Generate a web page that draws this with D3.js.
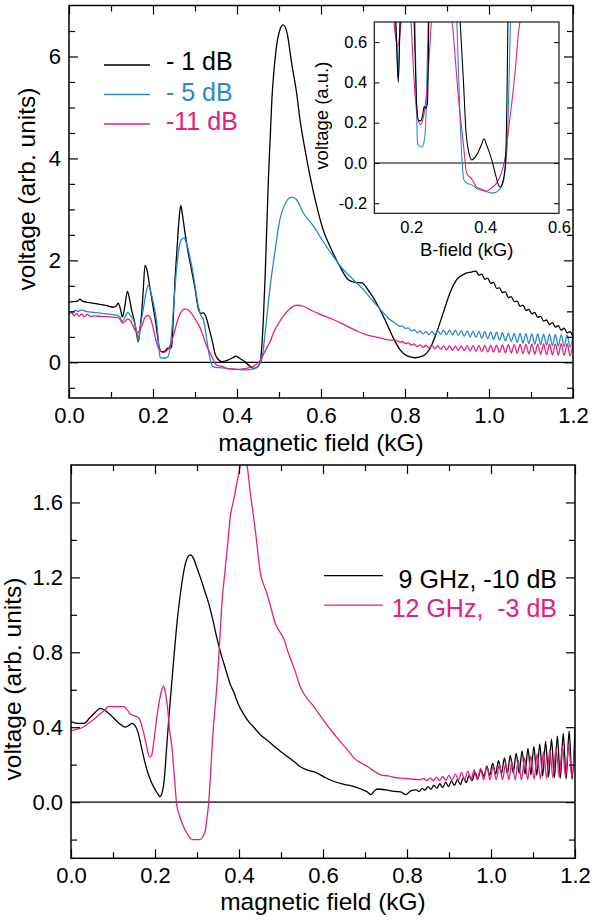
<!DOCTYPE html>
<html>
<head>
<meta charset="utf-8">
<script src="https://cdn.jsdelivr.net/npm/d3@7"></script>
<style>
  html, body { margin: 0; padding: 0; background: #fff; }
  svg { display: block; font-family: "Liberation Sans", Arial, Helvetica, sans-serif; }
</style>
</head>
<body>
<svg id="chart" width="598" height="920"></svg>
<script>
// ---------------- data: upper panel (field in kG, voltage in arb. units) ----------------
const top_m1dB = [
  [0.000,1.18],[0.010,1.19],[0.020,1.20],[0.026,1.24],[0.032,1.20],[0.050,1.17],[0.070,1.14],[0.090,1.11],
  [0.105,1.08],[0.112,1.10],[0.117,1.16],[0.122,1.06],[0.127,0.89],[0.133,1.10],[0.139,1.39],[0.144,1.25],
  [0.149,1.03],[0.153,0.90],[0.157,0.75],[0.161,0.55],[0.165,0.40],[0.169,0.65],[0.173,0.97],[0.177,1.45],
  [0.181,1.90],[0.186,1.80],[0.191,1.55],[0.200,1.10],[0.207,0.75],[0.211,0.50],[0.215,0.28],[0.220,0.21],
  [0.226,0.21],[0.231,0.24],[0.235,0.28],[0.240,0.27],[0.244,0.30],[0.248,0.80],[0.252,1.55],[0.257,2.20],
  [0.262,2.80],[0.266,3.08],[0.270,2.90],[0.276,2.55],[0.284,2.14],[0.292,1.80],[0.300,1.45],[0.308,1.05],
  [0.314,0.96],[0.320,0.97],[0.326,0.90],[0.334,0.65],[0.342,0.38],[0.348,0.16],[0.355,0.06],[0.364,0.015],
  [0.377,0.04],[0.390,0.09],[0.397,0.12],[0.404,0.09],[0.418,0.015],[0.427,-0.05],[0.440,-0.12],[0.449,-0.085],
  [0.455,0.00],[0.459,0.30],[0.463,0.90],[0.467,1.69],[0.475,3.65],[0.483,5.15],[0.493,6.13],[0.502,6.52],
  [0.510,6.62],[0.520,6.43],[0.530,5.87],[0.542,5.28],[0.550,4.76],[0.562,4.17],[0.574,3.65],[0.590,3.06],
  [0.605,2.60],[0.625,2.21],[0.645,1.88],[0.665,1.62],[0.681,1.57],[0.697,1.56],[0.717,1.36],[0.740,1.04],
  [0.756,0.77],[0.772,0.48],[0.788,0.25],[0.804,0.13],[0.824,0.09],[0.844,0.13],[0.860,0.28],[0.875,0.58],
  [0.891,0.97],[0.907,1.36],[0.923,1.62],[0.943,1.74],[0.958,1.77]
];
const top_m5dB = [
  [0.000,1.00],[0.008,0.98],[0.015,1.02],[0.022,1.00],[0.030,1.03],[0.040,1.00],[0.060,0.98],[0.080,0.96],
  [0.100,0.94],[0.115,0.92],[0.122,0.88],[0.127,0.80],[0.133,0.88],[0.140,0.98],[0.146,0.92],[0.152,0.85],
  [0.158,0.72],[0.162,0.55],[0.165,0.42],[0.168,0.60],[0.172,0.80],[0.178,1.10],[0.183,1.35],[0.189,1.52],
  [0.194,1.40],[0.200,1.20],[0.206,0.95],[0.210,0.70],[0.214,0.30],[0.217,0.10],[0.221,0.085],[0.229,0.08],
  [0.236,0.12],[0.241,0.30],[0.245,0.64],[0.250,1.20],[0.256,1.82],[0.262,2.25],[0.268,2.41],[0.274,2.44],
  [0.279,2.35],[0.284,2.21],[0.290,1.98],[0.296,1.72],[0.302,1.40],[0.308,1.10],[0.314,0.92],[0.320,0.84],
  [0.328,0.45],[0.333,0.18],[0.338,0.00],[0.342,-0.08],[0.350,-0.10],[0.365,-0.11],[0.380,-0.13],[0.400,-0.14],
  [0.420,-0.15],[0.440,-0.13],[0.450,-0.09],[0.456,0.00],[0.460,0.10],[0.467,0.58],[0.479,1.49],[0.491,2.21],
  [0.502,2.80],[0.510,3.02],[0.518,3.16],[0.530,3.24],[0.542,3.19],[0.558,2.93],[0.582,2.67],[0.605,2.37],
  [0.629,2.08],[0.653,1.82],[0.677,1.62],[0.700,1.43],[0.724,1.20],[0.740,1.05],[0.764,0.84]
];
const top_m11dB = [
  [0.000,0.94],[0.006,0.98],[0.012,0.91],[0.018,0.96],[0.024,0.90],[0.030,0.95],[0.036,0.89],[0.044,0.94],
  [0.052,0.90],[0.060,0.91],[0.080,0.90],[0.100,0.89],[0.115,0.88],[0.122,0.84],[0.127,0.77],[0.133,0.80],
  [0.140,0.85],[0.146,0.82],[0.152,0.72],[0.158,0.62],[0.163,0.58],[0.168,0.62],[0.175,0.75],[0.181,0.88],
  [0.187,0.92],[0.193,0.88],[0.199,0.72],[0.205,0.50],[0.212,0.30],[0.218,0.22],[0.225,0.19],[0.232,0.22],
  [0.240,0.32],[0.248,0.51],[0.255,0.72],[0.262,0.90],[0.270,1.02],[0.277,1.05],[0.285,1.02],[0.294,0.93],
  [0.304,0.80],[0.312,0.68],[0.320,0.50],[0.328,0.32],[0.336,0.18],[0.343,0.06],[0.350,-0.05],[0.364,-0.08],
  [0.377,-0.12],[0.390,-0.13],[0.404,-0.14],[0.413,-0.13],[0.431,-0.10],[0.444,-0.05],[0.453,0.015],[0.467,0.22],
  [0.480,0.43],[0.489,0.62],[0.500,0.78],[0.510,0.90],[0.526,1.05],[0.542,1.12],[0.558,1.10],[0.575,1.03],
  [0.590,0.97],[0.610,0.90],[0.629,0.84],[0.650,0.76],[0.669,0.68],[0.690,0.60],[0.709,0.54],[0.740,0.48],
  [0.760,0.44]
];

// high-field sample positions (kG) where the traces ripple
const tailField = [
  0.780,0.787,0.794,0.801,0.808,0.815,0.822,0.829,0.836,0.843,0.850,0.857,0.864,0.871,0.878,0.885,
  0.892,0.899,0.906,0.913,0.920,0.927,0.934,0.941,0.948,0.955,0.962,0.969,0.976,0.983,0.990,0.997,
  1.004,1.011,1.018,1.025,1.032,1.039,1.046,1.053,1.060,1.067,1.074,1.081,1.088,1.095,1.102,1.109,
  1.116,1.123,1.130,1.137,1.144,1.151,1.158,1.165,1.172,1.179,1.186,1.193,1.200
];
// -1 dB ripple, from 0.969 kG on
const top_m1dB_tail = [
  1.79,1.71,1.73,1.63,1.65,1.55,1.57,1.45,1.46,1.37,1.38,1.27,1.29,1.19,1.20,1.10,1.12,
  1.02,1.04,0.95,0.98,0.88,0.90,0.81,0.83,0.74,0.78,0.69,0.72,0.63,0.67,0.58,0.60,0.50
];
const top_m5dB_tail = [
  0.750,0.710,0.710,0.665,0.676,0.617,0.640,0.580,0.614,0.555,0.602,0.540,0.600,0.543,0.615,0.548,
  0.630,0.545,0.635,0.537,0.630,0.525,0.622,0.511,0.615,0.500,0.613,0.488,0.609,0.474,0.604,0.462,
  0.598,0.450,0.591,0.435,0.582,0.420,0.573,0.406,0.569,0.391,0.565,0.377,0.562,0.364,0.559,0.354,
  0.557,0.344,0.554,0.336,0.551,0.327,0.547,0.318,0.543,0.308,0.538,0.297,0.530
];
const top_m11dB_tail = [
  0.430,0.399,0.408,0.365,0.386,0.337,0.360,0.309,0.344,0.291,0.335,0.278,0.329,0.265,0.325,0.254,
  0.322,0.242,0.321,0.236,0.322,0.232,0.324,0.228,0.326,0.223,0.329,0.217,0.333,0.210,0.334,0.205,
  0.336,0.200,0.339,0.194,0.343,0.188,0.345,0.182,0.348,0.177,0.350,0.172,0.353,0.166,0.355,0.161,
  0.358,0.155,0.360,0.149,0.361,0.145,0.363,0.140,0.366,0.135,0.368,0.131,0.370
];

// ---------------- data: lower panel ----------------
const bot_9GHz = [
  [0.000,0.43],[0.015,0.42],[0.030,0.42],[0.045,0.45],[0.058,0.48],[0.069,0.50],[0.081,0.49],[0.092,0.47],
  [0.101,0.45],[0.115,0.42],[0.129,0.40],[0.138,0.41],[0.145,0.42],[0.152,0.41],[0.160,0.37],[0.167,0.30],
  [0.173,0.24],[0.181,0.17],[0.189,0.12],[0.197,0.08],[0.205,0.05],[0.212,0.03],[0.218,0.06],[0.222,0.12],
  [0.228,0.30],[0.234,0.48],[0.240,0.64],[0.246,0.80],[0.252,0.95],[0.258,1.07],[0.264,1.17],[0.270,1.25],
  [0.276,1.30],[0.284,1.32],[0.292,1.30],[0.300,1.25],[0.308,1.20],[0.318,1.13],[0.328,1.06],[0.338,0.97],
  [0.348,0.87],[0.356,0.80],[0.364,0.74],[0.372,0.68],[0.379,0.63],[0.387,0.59],[0.399,0.52],[0.411,0.47],
  [0.423,0.43],[0.435,0.40],[0.451,0.36],[0.467,0.33],[0.483,0.30],[0.499,0.27],[0.511,0.25],[0.523,0.23],
  [0.535,0.21],[0.545,0.19],[0.565,0.17],[0.586,0.155],[0.606,0.13],[0.626,0.11],[0.650,0.095],[0.674,0.083],
  [0.690,0.07],[0.705,0.055],[0.714,0.04],[0.722,0.06],[0.730,0.07],[0.750,0.065],[0.769,0.057],[0.785,0.055],
  [0.797,0.04],[0.809,0.06]
];
// 9 GHz ripple, from 0.822 kG on
const bot_9GHz_tail = [
  0.065,0.057,0.073,0.064,0.083,0.069,0.090,0.074,0.098,0.078,0.105,0.083,0.113,0.089,0.120,0.094,
  0.129,0.104,0.143,0.115,0.158,0.126,0.175,0.137,0.192,0.144,0.207,0.150,0.221,0.152,0.236,0.154,
  0.249,0.155,0.262,0.153,0.274,0.150,0.287,0.145,0.298,0.143,0.310,0.138,0.324,0.135,0.336,0.132,
  0.352,0.128,0.367,0.124,0.380,0.121,0.390
];
const bot_12GHz = [
  [0.000,0.38],[0.015,0.39],[0.029,0.40],[0.041,0.42],[0.053,0.44],[0.069,0.47],[0.080,0.49],[0.089,0.51],
  [0.105,0.51],[0.125,0.51],[0.135,0.49],[0.141,0.47],[0.152,0.46],[0.161,0.45],[0.167,0.42],[0.173,0.37],
  [0.180,0.30],[0.187,0.24],[0.192,0.25],[0.196,0.30],[0.202,0.41],[0.208,0.51],[0.214,0.58],[0.220,0.62],
  [0.225,0.58],[0.230,0.50],[0.235,0.38],[0.240,0.30],[0.246,0.14],[0.252,-0.02],[0.258,-0.07],[0.264,-0.11],
  [0.272,-0.15],[0.280,-0.18],[0.288,-0.20],[0.300,-0.20],[0.308,-0.20],[0.315,-0.18],[0.320,-0.15],[0.324,-0.08],
  [0.328,0.00],[0.332,0.14],[0.336,0.30],[0.342,0.48],[0.348,0.64],[0.354,0.86],[0.360,1.08],[0.366,1.22],
  [0.372,1.35],[0.379,1.52],[0.387,1.61],[0.393,1.68],[0.399,1.75],[0.405,1.81],[0.412,1.83],[0.418,1.81],
  [0.427,1.65],[0.433,1.55],[0.439,1.45],[0.445,1.33],[0.451,1.22],[0.459,1.16],[0.467,1.11],[0.477,1.03],
  [0.487,0.95],[0.497,0.91],[0.507,0.87],[0.517,0.80],[0.527,0.74],[0.535,0.69],[0.545,0.62],[0.560,0.56],
  [0.578,0.51],[0.594,0.46],[0.610,0.41],[0.626,0.365],[0.642,0.32],[0.658,0.28],[0.674,0.235],[0.690,0.21],
  [0.706,0.19],[0.722,0.165],[0.737,0.146],[0.755,0.14],[0.770,0.132],[0.785,0.128],[0.800,0.126],[0.815,0.122],
  [0.830,0.12]
];
const bot_12GHz_field = [
  0.8400,0.8475,0.8550,0.8625,0.8700,0.8775,0.8850,0.8925,0.9000,0.9075,0.9150,0.9225,0.9300,0.9375,
  0.9450,0.9525,0.9600,0.9675,0.9750,0.9825,0.9900,0.9975,1.0050,1.0125,1.0200,1.0275,1.0350,1.0425,
  1.0500,1.0575,1.0650,1.0725,1.0800,1.0875,1.0950,1.1025,1.1100,1.1175,1.1250,1.1325,1.1400,1.1475,
  1.1550,1.1625,1.1700,1.1775,1.1850,1.1925,1.2000
];
const bot_12GHz_tail = [
  0.125,0.115,0.129,0.115,0.133,0.115,0.137,0.116,0.143,0.118,0.149,0.119,0.157,0.119,
  0.165,0.119,0.173,0.119,0.180,0.120,0.187,0.120,0.192,0.120,0.200,0.120,0.208,0.120,
  0.216,0.119,0.223,0.119,0.236,0.121,0.247,0.122,0.257,0.124,0.269,0.126,0.280,0.129,
  0.290,0.131,0.299,0.135,0.307,0.135,0.315
];

// ---------------- ticks and legend text ----------------
const xMajorTicks = [0, 0.2, 0.4, 0.6, 0.8, 1.0, 1.2];
const xMinorTicks = [0.1, 0.3, 0.5, 0.7, 0.9, 1.1];
const topYMajor = [0, 2, 4, 6];
const topYMinor = [-0.5, 0.5, 1, 1.5, 2.5, 3, 3.5, 4.5, 5, 5.5, 6.5];
const botYMajor = [0, 0.4, 0.8, 1.2, 1.6];
const botYMinor = [-0.2, 0.2, 0.6, 1.0, 1.4];
const insetXTicks = [0.2, 0.4, 0.6];
const insetYTicks = [-0.2, 0, 0.2, 0.4, 0.6];
const topLegend = ["- 1 dB", "- 5 dB", "-11 dB"];
const botLegend = ["9 GHz, -10 dB", "12 GHz,  -3 dB"];

const BLACK = "#000000", BLUE = "#2b87cd", MAGENTA = "#e2217f";

// assemble full traces
const pairUp = (xs, ys) => ys.map((v, i) => [xs[i], v]);
const seriesTop = [
  { data: top_m1dB.concat(pairUp(tailField.slice(27), top_m1dB_tail)), color: BLACK },
  { data: top_m5dB.concat(pairUp(tailField, top_m5dB_tail)), color: BLUE },
  { data: top_m11dB.concat(pairUp(tailField, top_m11dB_tail)), color: MAGENTA }
];
const seriesBot = [
  { data: bot_9GHz.concat(pairUp(tailField.slice(6), bot_9GHz_tail)), color: BLACK },
  { data: bot_12GHz.concat(pairUp(bot_12GHz_field, bot_12GHz_tail)), color: MAGENTA }
];

const svg = d3.select("#chart");
const TICK_FONT = 22, TITLE_FONT = 24.5, LEGEND_FONT = 25;

function drawPanel(cfg) {
  const { box, xDomain, yDomain, series, id } = cfg;
  const x = d3.scaleLinear().domain(xDomain).range([box.left, box.right]);
  const y = d3.scaleLinear().domain(yDomain).range([box.bottom, box.top]);
  const g = svg.append("g");

  g.append("clipPath").attr("id", id).append("rect")
    .attr("x", box.left).attr("y", box.top)
    .attr("width", box.right - box.left).attr("height", box.bottom - box.top);

  // zero reference line
  g.append("line")
    .attr("x1", box.left).attr("x2", box.right)
    .attr("y1", y(0)).attr("y2", y(0))
    .attr("stroke", "#000").attr("stroke-width", 1.2);

  const line = d3.line().x(d => x(d[0])).y(d => y(d[1])).curve(d3.curveMonotoneX);
  const traces = g.append("g").attr("clip-path", `url(#${id})`);
  series.forEach(s => {
    traces.append("path").datum(s.data)
      .attr("d", line).attr("fill", "none")
      .attr("stroke", s.color).attr("stroke-width", 1.3)
      .attr("stroke-linejoin", "round");
  });

  const styleAxis = sel => {
    sel.select(".domain").remove();
    sel.selectAll(".tick line").attr("stroke", "#000").attr("stroke-width", 1.2);
    sel.selectAll(".tick text").attr("fill", "#000")
      .style("font-size", TICK_FONT + "px").style("font-family", "Liberation Sans, Arial, sans-serif");
  };
  const fmtX = d => d.toFixed(1);

  g.append("g").attr("transform", `translate(0,${box.bottom})`)
    .call(d3.axisBottom(x).tickValues(xMajorTicks).tickSizeInner(-9).tickSizeOuter(0)
      .tickPadding(9).tickFormat(fmtX)).call(styleAxis);
  g.append("g").attr("transform", `translate(0,${box.bottom})`)
    .call(d3.axisBottom(x).tickValues(xMinorTicks).tickSizeInner(-6).tickSizeOuter(0)
      .tickFormat("")).call(styleAxis);
  g.append("g").attr("transform", `translate(0,${box.top})`)
    .call(d3.axisTop(x).tickValues(xMajorTicks).tickSizeInner(-9).tickSizeOuter(0)
      .tickFormat("")).call(styleAxis);
  g.append("g").attr("transform", `translate(0,${box.top})`)
    .call(d3.axisTop(x).tickValues(xMinorTicks).tickSizeInner(-6).tickSizeOuter(0)
      .tickFormat("")).call(styleAxis);

  g.append("g").attr("transform", `translate(${box.left},0)`)
    .call(d3.axisLeft(y).tickValues(cfg.yMajor).tickSizeInner(-9).tickSizeOuter(0)
      .tickPadding(8).tickFormat(cfg.yFormat)).call(styleAxis);
  g.append("g").attr("transform", `translate(${box.left},0)`)
    .call(d3.axisLeft(y).tickValues(cfg.yMinor).tickSizeInner(-6).tickSizeOuter(0)
      .tickFormat("")).call(styleAxis);
  g.append("g").attr("transform", `translate(${box.right},0)`)
    .call(d3.axisRight(y).tickValues(cfg.yMajor).tickSizeInner(-9).tickSizeOuter(0)
      .tickFormat("")).call(styleAxis);
  g.append("g").attr("transform", `translate(${box.right},0)`)
    .call(d3.axisRight(y).tickValues(cfg.yMinor).tickSizeInner(-6).tickSizeOuter(0)
      .tickFormat("")).call(styleAxis);

  // frame
  g.append("rect")
    .attr("x", box.left).attr("y", box.top)
    .attr("width", box.right - box.left).attr("height", box.bottom - box.top)
    .attr("fill", "none").attr("stroke", "#000").attr("stroke-width", 1.5);

  // axis titles
  g.append("text")
    .attr("x", (box.left + box.right) / 2).attr("y", cfg.xTitleY)
    .attr("text-anchor", "middle").style("font-size", TITLE_FONT + "px")
    .text("magnetic field (kG)");
  g.append("text")
    .attr("transform", `translate(${cfg.yTitleX},${cfg.yTitleMid}) rotate(-90)`)
    .attr("text-anchor", "middle").style("font-size", TITLE_FONT + "px")
    .text("voltage (arb. units)");

  return { x, y, g };
}

// ---------------- upper panel ----------------
const topBox = { left: 69, right: 573, top: 5.5, bottom: 398 };
drawPanel({
  id: "clipTop", box: topBox, xDomain: [0, 1.2], yDomain: [-0.7, 7.0],
  series: seriesTop, yMajor: topYMajor, yMinor: topYMinor, yFormat: d3.format("d"),
  xTitleY: 451, yTitleX: 35, yTitleMid: 189
});

// legend (upper)
const topLegendG = svg.append("g");
[BLACK, BLUE, MAGENTA].forEach((c, i) => {
  const yy = 65 + i * 29.5;
  topLegendG.append("line").attr("x1", 104).attr("x2", 150).attr("y1", yy).attr("y2", yy)
    .attr("stroke", c).attr("stroke-width", 1.3);
  topLegendG.append("text").attr("x", 166).attr("y", yy + 6 + (i === 0 ? -1 : 0))
    .attr("fill", c).style("font-size", LEGEND_FONT + "px").style("white-space", "pre")
    .text(topLegend[i]);
});

// inset: zoom on the low-voltage region of the upper traces
(function drawInset() {
  const b = { left: 374.3, right: 559, top: 22, bottom: 213.3 };
  const x = d3.scaleLinear().domain([0.1, 0.6]).range([b.left, b.right]);
  const y = d3.scaleLinear().domain([-0.25, 0.7]).range([b.bottom, b.top]);
  const g = svg.append("g");
  g.append("rect").attr("x", b.left).attr("y", b.top)
    .attr("width", b.right - b.left).attr("height", b.bottom - b.top).attr("fill", "#fff");
  g.append("clipPath").attr("id", "clipInset").append("rect")
    .attr("x", b.left).attr("y", b.top)
    .attr("width", b.right - b.left).attr("height", b.bottom - b.top);
  g.append("line").attr("x1", b.left).attr("x2", b.right).attr("y1", y(0)).attr("y2", y(0))
    .attr("stroke", "#000").attr("stroke-width", 1.1);
  const line = d3.line().x(d => x(d[0])).y(d => y(d[1])).curve(d3.curveMonotoneX);
  const tr = g.append("g").attr("clip-path", "url(#clipInset)");
  [seriesTop[1], seriesTop[2], seriesTop[0]].forEach(s => {
    tr.append("path").datum(s.data).attr("d", line).attr("fill", "none")
      .attr("stroke", s.color).attr("stroke-width", 1.1).attr("stroke-linejoin", "round");
  });
  const st = sel => {
    sel.select(".domain").remove();
    sel.selectAll(".tick line").attr("stroke", "#000").attr("stroke-width", 1);
    sel.selectAll(".tick text").attr("fill", "#000").style("font-size", "16.5px")
      .style("font-family", "Liberation Sans, Arial, sans-serif");
  };
  g.append("g").attr("transform", `translate(${b.left},0)`)
    .call(d3.axisLeft(y).tickValues(insetYTicks).tickSizeInner(-5).tickSizeOuter(0)
      .tickPadding(7).tickFormat(d => d.toFixed(1))).call(st);
  g.append("g").attr("transform", `translate(${b.right},0)`)
    .call(d3.axisRight(y).tickValues(insetYTicks).tickSizeInner(-5).tickSizeOuter(0)
      .tickFormat("")).call(st);
  g.append("g").attr("transform", `translate(0,${b.bottom})`)
    .call(d3.axisBottom(x).tickValues(insetXTicks).tickSizeInner(0).tickSizeOuter(0)
      .tickPadding(8).tickFormat(d => d.toFixed(1))).call(st);
  g.append("rect").attr("x", b.left).attr("y", b.top)
    .attr("width", b.right - b.left).attr("height", b.bottom - b.top)
    .attr("fill", "none").attr("stroke", "#000").attr("stroke-width", 1.1);
  g.append("text").attr("x", (b.left + b.right) / 2).attr("y", 256)
    .attr("text-anchor", "middle").style("font-size", "18.5px").text("B-field (kG)");
  g.append("text").attr("transform", `translate(328,${(b.top + b.bottom) / 2 - 2}) rotate(-90)`)
    .attr("text-anchor", "middle").style("font-size", "18.5px").text("voltage (a.u.)");
})();

// ---------------- lower panel ----------------
const botBox = { left: 71, right: 575, top: 465, bottom: 858.3 };
drawPanel({
  id: "clipBot", box: botBox, xDomain: [0, 1.2], yDomain: [-0.3, 1.8],
  series: seriesBot, yMajor: botYMajor, yMinor: botYMinor, yFormat: d => d.toFixed(1),
  xTitleY: 910, yTitleX: 21, yTitleMid: 679
});

// legend (lower)
const botLegendG = svg.append("g");
[BLACK, MAGENTA].forEach((c, i) => {
  const yy = 575.7 + i * 29.5;
  botLegendG.append("line").attr("x1", 324).attr("x2", 383).attr("y1", yy).attr("y2", yy)
    .attr("stroke", c).attr("stroke-width", 1.3);
  botLegendG.append("text").attr("x", 557).attr("y", yy + 12)
    .attr("text-anchor", "end").attr("fill", c)
    .style("font-size", LEGEND_FONT + "px").style("white-space", "pre")
    .text(botLegend[i]);
});
</script>
</body>
</html>
